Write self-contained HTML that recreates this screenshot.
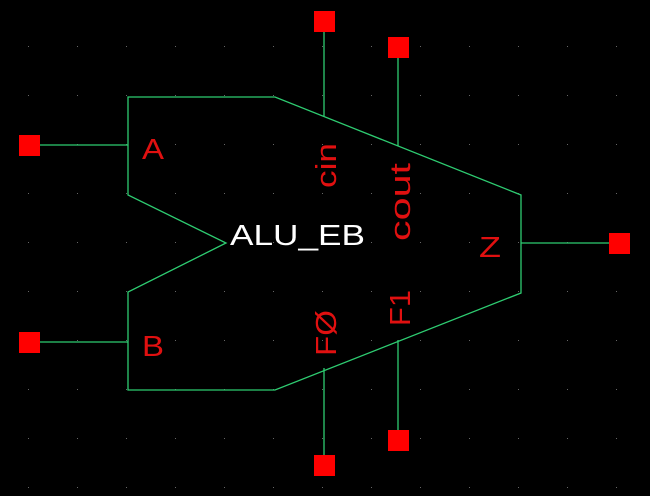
<!DOCTYPE html><html><head><style>body{margin:0;background:#000}</style></head><body>
<svg width="650" height="496" xmlns="http://www.w3.org/2000/svg" style="display:block">
<rect width="650" height="496" fill="#000"/>
<defs><pattern id="g" x="28" y="-3" width="49" height="49" patternUnits="userSpaceOnUse"><rect width="1" height="1" fill="#666"/></pattern></defs>
<rect width="650" height="496" fill="url(#g)"/>
<g stroke="#2ecc71" stroke-width="1.3" fill="none">
<polygon points="128,97 275,97 521,195 521,293 275,390 128,390 128,292 226,243 128,195"/>
<line x1="30" y1="145" x2="128" y2="145"/>
<line x1="30" y1="342" x2="128" y2="342"/>
<line x1="521" y1="243" x2="619" y2="243"/>
<line x1="324" y1="21" x2="324" y2="116"/>
<line x1="398" y1="47" x2="398" y2="146"/>
<line x1="324" y1="368" x2="324" y2="465"/>
<line x1="398" y1="340" x2="398" y2="440"/>
</g>
<g fill="#f00">
<rect x="19" y="135" width="21" height="21"/>
<rect x="19" y="332" width="21" height="21"/>
<rect x="609" y="233" width="21" height="21"/>
<rect x="314" y="11" width="21" height="21"/>
<rect x="388" y="37" width="21" height="21"/>
<rect x="314" y="455" width="21" height="21"/>
<rect x="388" y="430" width="21" height="21"/>
</g>
<g font-family="Liberation Sans, sans-serif" font-size="29" fill="#e01010">
<text x="142" y="159" textLength="22" lengthAdjust="spacingAndGlyphs">A</text>
<text x="142" y="356" textLength="22" lengthAdjust="spacingAndGlyphs">B</text>
<text x="479" y="257" textLength="22" lengthAdjust="spacingAndGlyphs">Z</text>
<text transform="translate(336,188) rotate(-90)" textLength="45" lengthAdjust="spacingAndGlyphs">cin</text>
<text transform="translate(410,241) rotate(-90)" textLength="78" lengthAdjust="spacingAndGlyphs">cout</text>
<text transform="translate(336,356) rotate(-90)" textLength="46" lengthAdjust="spacingAndGlyphs">FØ</text>
<text transform="translate(410,326) rotate(-90)" textLength="36" lengthAdjust="spacingAndGlyphs">F1</text>
</g>
<text x="230" y="245" fill="#fff" font-family="Liberation Sans, sans-serif" font-size="29" textLength="135" lengthAdjust="spacingAndGlyphs">ALU_EB</text>
</svg></body></html>
